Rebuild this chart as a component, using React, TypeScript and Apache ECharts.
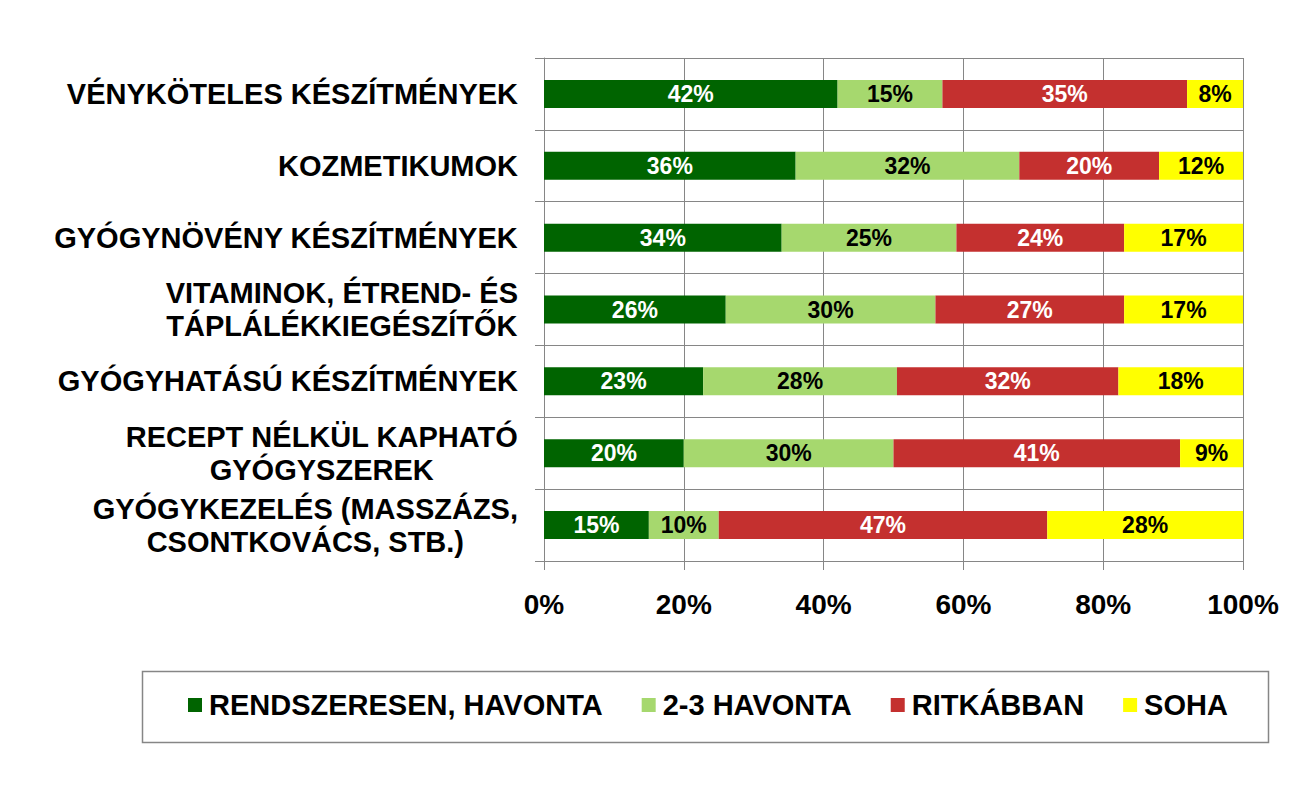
import React, { useEffect, useRef } from "react";
import * as echarts from "echarts";

const categories = [
  "VÉNYKÖTELES KÉSZÍTMÉNYEK",
  "KOZMETIKUMOK",
  "GYÓGYNÖVÉNY KÉSZÍTMÉNYEK",
  "VITAMINOK, ÉTREND- ÉS\nTÁPLÁLÉKKIEGÉSZÍTŐK",
  "GYÓGYHATÁSÚ KÉSZÍTMÉNYEK",
  "RECEPT NÉLKÜL KAPHATÓ\nGYÓGYSZEREK",
  "GYÓGYKEZELÉS (MASSZÁZS,\nCSONTKOVÁCS, STB.)",
];

const seriesNames = ["RENDSZERESEN, HAVONTA", "2-3 HAVONTA", "RITKÁBBAN", "SOHA"];

const rendszeresen = [42, 36, 34, 26, 23, 20, 15];
const havonta23 = [15, 32, 25, 30, 28, 30, 10];
const ritkabban = [35, 20, 24, 27, 32, 41, 47];
const soha = [8, 12, 17, 17, 18, 9, 28];

const xTicks = [0, 20, 40, 60, 80, 100];

const colors = ["#006400", "#A6D86E", "#C4302F", "#FFFF00"];
const labelColors = ["#FFFFFF", "#000000", "#FFFFFF", "#000000"];

export default function App() {
  const ref = useRef<HTMLDivElement>(null);

  useEffect(() => {
    document.body.style.margin = "0";
    if (!ref.current) return;
    const chart = echarts.init(ref.current, null, { renderer: "svg" });
    const raw = [rendszeresen, havonta23, ritkabban, soha];
    const rowSums = categories.map((_, i) => raw.reduce((s, arr) => s + arr[i], 0));
    const font = "'Liberation Sans', Arial, sans-serif";

    const series = raw.map((arr, si) => ({
      name: seriesNames[si],
      type: "bar",
      stack: "total",
      barWidth: 28,
      itemStyle: { color: colors[si] },
      label: {
        show: true,
        position: "inside",
        formatter: (p: any) => `${arr[p.dataIndex]}%`,
        color: labelColors[si],
        fontFamily: font,
        fontWeight: "bold",
        fontSize: 23,
      },
      data: arr.map((v, i) => (v / rowSums[i]) * 100),
    }));

    chart.setOption({
      animation: false,
      backgroundColor: "#ffffff",
      grid: { left: 544, right: 70, top: 58, bottom: 224, containLabel: false },
      xAxis: {
        type: "value",
        min: 0,
        max: 100,
        interval: 20,
        axisLine: { show: true, lineStyle: { color: "#868686", width: 1 } },
        axisTick: { show: true, length: 9, lineStyle: { color: "#868686" } },
        splitLine: { show: true, lineStyle: { color: "#868686", width: 1 } },
        axisLabel: {
          margin: 29,
          color: "#000",
          fontFamily: font,
          fontWeight: "bold",
          fontSize: 28,
          formatter: (v: number) => (xTicks.includes(v) ? `${v}%` : ""),
        },
      },
      yAxis: {
        type: "category",
        inverse: true,
        data: categories,
        axisLine: { show: true, lineStyle: { color: "#868686", width: 1 } },
        axisTick: { show: true, length: 9, lineStyle: { color: "#868686" } },
        splitLine: { show: true, lineStyle: { color: "#868686", width: 1 } },
        axisLabel: {
          margin: 26,
          align: "right",
          color: "#000",
          fontFamily: font,
          fontWeight: "bold",
          fontSize: 29,
          lineHeight: 33,
          formatter: (v: string) => v.split("\n").map((l) => `{c|${l}}`).join("\n"),
          rich: {
            c: {
              align: "center",
              color: "#000",
              fontFamily: font,
              fontWeight: "bold",
              fontSize: 29,
              lineHeight: 33,
            },
          },
        },
      },
      legend: {
        left: 183,
        top: 685,
        itemWidth: 14,
        itemHeight: 14,
        itemGap: 39,
        icon: "rect",
        data: seriesNames,
        textStyle: {
          color: "#000",
          fontFamily: font,
          fontWeight: "bold",
          fontSize: 29,
          lineHeight: 30,
          padding: [0, 0, 0, 2],
        },
      },
      graphic: [
        {
          type: "rect",
          left: 140,
          top: 669,
          shape: { width: 1126, height: 71 },
          style: { fill: "none", stroke: "#868686", lineWidth: 1.5 },
          z: -1,
        },
      ],
      series,
    });

    return () => chart.dispose();
  }, []);

  return (
    <div
      ref={ref}
      style={{ position: "absolute", left: 0, top: 0, width: 1313, height: 785 }}
    />
  );
}
